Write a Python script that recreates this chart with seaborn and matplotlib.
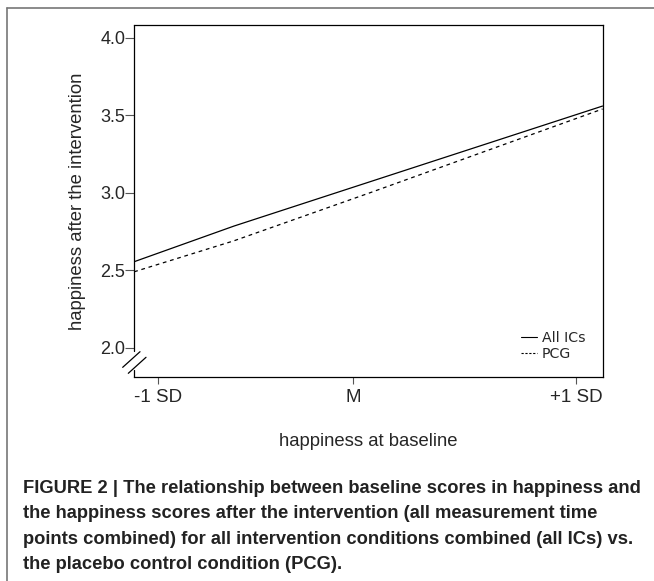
import matplotlib
matplotlib.use("Agg")
import matplotlib.pyplot as plt
from matplotlib import font_manager
from matplotlib.lines import Line2D
import pandas as pd
import seaborn as sns

# ========================
# DATA
# ========================
groups = ["All ICs", "PCG"]
baseline_x = [-1.124, -0.612, 0.086, 1.278]          # baseline in SD units
all_ics_y = [2.555, 2.785, 3.071, 3.559]
pcg_y = [2.490, 2.690, 3.000, 3.540]

x_tick_pos = [-1.0, 0.0, 1.144]
x_tick_labels = ["-1 SD", "M", "+1 SD"]
y_ticks = [2.0, 2.5, 3.0, 3.5, 4.0]

caption_lines = [
    "FIGURE 2 | The relationship between baseline scores in happiness and",
    "the happiness scores after the intervention (all measurement time",
    "points combined) for all intervention conditions combined (all ICs) vs.",
    "the placebo control condition (PCG).",
]

df = pd.DataFrame({
    "baseline": baseline_x * 2,
    "after": all_ics_y + pcg_y,
    "group": [groups[0]] * len(baseline_x) + [groups[1]] * len(baseline_x),
})

sns.set_theme(style="white")
names = {f.name for f in font_manager.fontManager.ttflist}
main_font = "Liberation Sans" if "Liberation Sans" in names else "DejaVu Sans"
plt.rcParams["font.family"] = [main_font, "DejaVu Sans"]

fig = plt.figure(figsize=(6.54, 5.81), dpi=100)
ax = fig.add_axes([0.2052, 0.3516, 0.7161, 0.6054])

sns.lineplot(data=df, x="baseline", y="after", style="group",
             dashes={"All ICs": "", "PCG": (3, 3)}, color="black",
             linewidth=0.9, ax=ax, legend=False)

ax.set_xlim(-1.124, 1.278)
ax.set_ylim(1.813, 4.082)
ax.set_xticks(x_tick_pos)
ax.set_xticklabels(x_tick_labels)
ax.set_yticks(y_ticks)
ax.set_yticklabels([f"{v:.1f}" for v in y_ticks])
ax.tick_params(axis="y", length=6.5, width=0.8, color="#555555", pad=0,
               labelsize=13, left=True)
ax.tick_params(axis="x", length=5, width=0.8, color="#555555", pad=4,
               labelsize=13.5, bottom=True)

ax.set_xlabel("happiness at baseline", fontsize=13.3, labelpad=19)
ax.set_ylabel("happiness after the intervention", fontsize=13.3, labelpad=10)

for s in ["top", "right", "bottom"]:
    ax.spines[s].set_color("black")
    ax.spines[s].set_linewidth(0.9)
# broken y axis
ax.spines["left"].set_visible(False)
kw = dict(transform=ax.transAxes, color="black", lw=0.9, clip_on=False)
ax.plot([0, 0], [0.0731, 1.0], **kw)
ax.plot([0, 0], [0.0, 0.019], **kw)
ax.plot([-0.0246, 0.0124], [0.0267, 0.0711], **kw)
ax.plot([-0.0126, 0.0252], [0.0097, 0.0552], **kw)

# legend
handles = [Line2D([], [], color="black", lw=0.8),
           Line2D([], [], color="black", lw=0.8, dashes=(2, 1.5))]
leg = ax.legend(handles, groups, loc="upper left", bbox_to_anchor=(0.826, 0.13),
                frameon=False, handlelength=1.1, handletextpad=0.35,
                borderpad=0, borderaxespad=0, labelspacing=0.15,
                prop={"family": "DejaVu Sans", "size": 10.2})

# outer frame
fig.add_artist(Line2D([7 / 654, 7 / 654], [0, 1 - 8 / 581], color="#777777",
                      lw=1.2, transform=fig.transFigure))
fig.add_artist(Line2D([7 / 654, 1], [1 - 8 / 581, 1 - 8 / 581], color="#777777",
                      lw=1.2, transform=fig.transFigure))

fig.text(23 / 654, 1 - 480 / 581, "\n".join(caption_lines), ha="left", va="top",
         fontsize=13.2, fontweight="bold", color="#222222", linespacing=1.64)

fig.savefig("out.png", dpi=100)
